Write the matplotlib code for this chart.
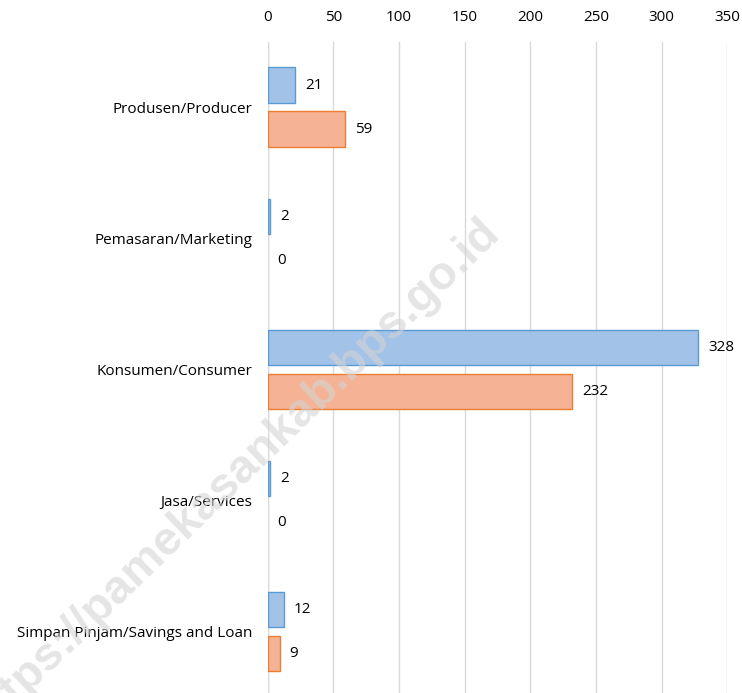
import matplotlib
matplotlib.use("Agg")
import matplotlib.pyplot as plt
import numpy as np

plt.rcParams['font.family'] = ['Open Sans', 'DejaVu Sans']

categories = ["Produsen/Producer", "Pemasaran/Marketing", "Konsumen/Consumer",
              "Jasa/Services", "Simpan Pinjam/Savings and Loan"]
series_a = [21, 2, 328, 2, 12]
series_b = [59, 0, 232, 0, 9]
xticks = [0, 50, 100, 150, 200, 250, 300, 350]

BLUE_FILL = "#a3c2e8"
BLUE_EDGE = "#5b9bd5"
ORANGE_FILL = "#f5b295"
ORANGE_EDGE = "#ed7d31"

fig = plt.figure(figsize=(7.42, 6.93), dpi=100)
ax = fig.add_axes([0.361, -0.006, 0.619, 0.946])

y = np.arange(len(categories))
h = 0.27
off = 0.168

bars_a = ax.barh(y - off, series_a, height=h, color=BLUE_FILL, edgecolor=BLUE_EDGE,
                 linewidth=1.0, zorder=3)
bars_b = ax.barh(y + off, series_b, height=h, color=ORANGE_FILL, edgecolor=ORANGE_EDGE,
                 linewidth=1.0, zorder=3)
for bars, vals in ((bars_a, series_a), (bars_b, series_b)):
    for b, v in zip(bars, vals):
        if v == 0:
            b.set_linewidth(0)
    ax.bar_label(bars, labels=[str(v) for v in vals], padding=7, fontsize=11, color="black")

ax.set_xlim(0, 350)
ax.set_ylim(len(categories) - 0.5, -0.5)
ax.set_xticks(xticks)
ax.xaxis.tick_top()
ax.tick_params(axis="x", length=0, pad=12, labelsize=11)
ax.set_yticks(y)
ax.set_yticklabels(categories, fontsize=11)
ax.tick_params(axis="y", length=0, pad=11)
ax.grid(axis="x", color="#d9d9d9", linewidth=1.0, zorder=0)
for s in ax.spines.values():
    s.set_visible(False)
ax.axvline(0, color="#d9d9d9", linewidth=1.0, zorder=1)

# watermark (runs off the left edge, as in the source image)
fig.text(0.676, 0.662, "https://pamekasankab.bps.go.id", rotation=44, rotation_mode="anchor",
         fontsize=34, family="Liberation Sans", fontweight="bold",
         color="#d4d4d4", alpha=0.6, ha="right", va="baseline", zorder=10)

fig.savefig("out.png", dpi=100)
